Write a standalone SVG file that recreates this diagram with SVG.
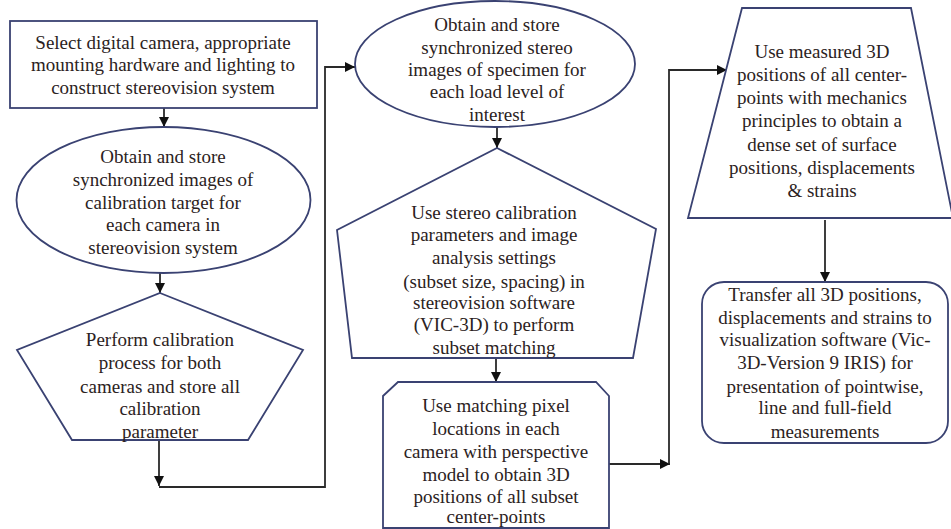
<svg xmlns="http://www.w3.org/2000/svg" width="951" height="529" viewBox="0 0 951 529">
<defs>
<marker id="ah" markerUnits="userSpaceOnUse" markerWidth="10" markerHeight="10" refX="10" refY="5" orient="auto">
<path d="M0,0 L10,5 L0,10 z" fill="#111"/>
</marker>
<style>
.shape{fill:#fff;stroke:#3a4272;stroke-width:1.8}
.conn{fill:none;stroke:#2a2a2a;stroke-width:1.8}
text{font-family:"Liberation Serif","Times New Roman",serif;font-size:19px;fill:#2b2222;text-anchor:middle}
</style>
</defs>
<rect width="951" height="529" fill="#fff"/>
<g id="connectors">
<path class="conn" d="M164,108 V127" marker-end="url(#ah)"/>
<path class="conn" d="M160,273 V293" marker-end="url(#ah)"/>
<path class="conn" d="M159,440 V486" marker-end="url(#ah)"/>
<path class="conn" d="M159,487 H325 V67 H355" marker-end="url(#ah)"/>
<path class="conn" d="M497,127 V148" marker-end="url(#ah)"/>
<path class="conn" d="M496,358 V382" marker-end="url(#ah)"/>
<path class="conn" d="M609,464 H670" marker-end="url(#ah)"/>
<path class="conn" d="M669,464 V70 H727" marker-end="url(#ah)"/>
<path class="conn" d="M825,220 V282" marker-end="url(#ah)"/>
</g>
<g id="n1">
<rect class="shape" x="10" y="21" width="307" height="87"/>
<text><tspan x="163" y="49">Select digital camera, appropriate</tspan><tspan x="163" y="71">mounting hardware and lighting to</tspan><tspan x="163" y="94">construct stereovision system</tspan></text>
</g>
<g id="n2">
<ellipse class="shape" cx="163.5" cy="200" rx="147" ry="73"/>
<text><tspan x="163" y="163">Obtain and store</tspan><tspan x="163" y="186">synchronized images of</tspan><tspan x="163" y="209">calibration target for</tspan><tspan x="163" y="231">each camera in</tspan><tspan x="163" y="254">stereovision system</tspan></text>
</g>
<g id="n3">
<polygon class="shape" points="160,293 303,350 248,440 72,440 17,350"/>
<text><tspan x="160" y="346">Perform calibration</tspan><tspan x="160" y="369">process for both</tspan><tspan x="160" y="393">cameras and store all</tspan><tspan x="160" y="415">calibration</tspan><tspan x="160" y="438">parameter</tspan></text>
</g>
<g id="n4">
<ellipse class="shape" cx="495" cy="64" rx="140" ry="63"/>
<text><tspan x="497" y="31">Obtain and store</tspan><tspan x="497" y="54">synchronized stereo</tspan><tspan x="497" y="76">images of specimen for</tspan><tspan x="497" y="98">each load level of</tspan><tspan x="497" y="121">interest</tspan></text>
</g>
<g id="n5">
<polygon class="shape" points="497,148 656,229 633,358 352,358 337,230"/>
<text><tspan x="494" y="219">Use stereo calibration</tspan><tspan x="494" y="241">parameters and image</tspan><tspan x="494" y="264">analysis settings</tspan><tspan x="494" y="288">(subset size, spacing) in</tspan><tspan x="494" y="309">stereovision software</tspan><tspan x="494" y="331">(VIC-3D) to perform</tspan><tspan x="494" y="354">subset matching</tspan></text>
</g>
<g id="n6">
<polygon class="shape" points="398,382 596,382 609,396 609,528 383,528 383,396"/>
<text><tspan x="496" y="412">Use matching pixel</tspan><tspan x="496" y="435">locations in each</tspan><tspan x="496" y="458">camera with perspective</tspan><tspan x="496" y="481">model to obtain 3D</tspan><tspan x="496" y="503">positions of all subset</tspan><tspan x="496" y="523">center-points</tspan></text>
</g>
<g id="n7">
<polygon class="shape" points="742,8 911,8 953,218 688,218"/>
<text><tspan x="822" y="58">Use measured 3D</tspan><tspan x="822" y="81">positions of all center-</tspan><tspan x="822" y="104">points with mechanics</tspan><tspan x="822" y="127">principles to obtain a</tspan><tspan x="822" y="151">dense set of surface</tspan><tspan x="822" y="174">positions, displacements</tspan><tspan x="822" y="197">&amp; strains</tspan></text>
</g>
<g id="n8">
<rect class="shape" x="702" y="282" width="246" height="161" rx="22" ry="22"/>
<text><tspan x="825" y="301">Transfer all 3D positions,</tspan><tspan x="825" y="324">displacements and strains to</tspan><tspan x="825" y="346">visualization software (Vic-</tspan><tspan x="825" y="369">3D-Version 9 IRIS) for</tspan><tspan x="825" y="393">presentation of pointwise,</tspan><tspan x="825" y="414">line and full-field</tspan><tspan x="825" y="438">measurements</tspan></text>
</g>
</svg>
